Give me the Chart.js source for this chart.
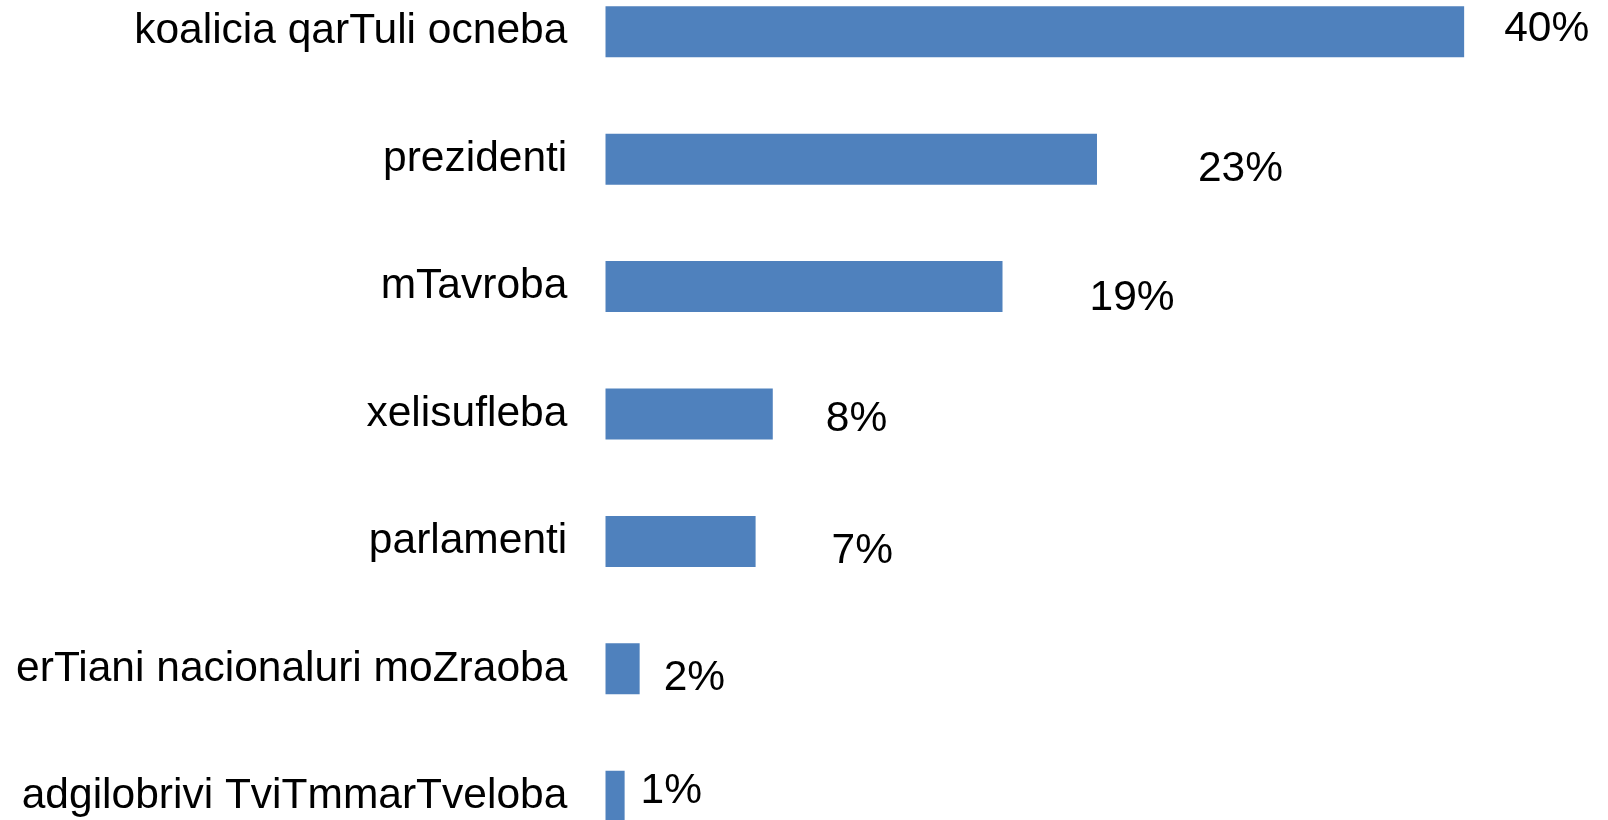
<!DOCTYPE html>
<html>
<head>
<meta charset="utf-8">
<script src="https://cdn.jsdelivr.net/npm/chart.js@4/dist/chart.umd.min.js"></script>
<style>
  html, body { margin: 0; padding: 0; background: #ffffff; overflow: hidden; width: 1608px; height: 820px; }
  #wrap { position: absolute; left: 0; top: -32px; width: 1608px; height: 892px; }
</style>
</head>
<body>
<div id="wrap"><canvas id="c" width="1608" height="892"></canvas></div>
<script>
const categories = [
  "koalicia qarTuli ocneba",
  "prezidenti",
  "mTavroba",
  "xelisufleba",
  "parlamenti",
  "erTiani nacionaluri moZraoba",
  "adgilobrivi TviTmmarTveloba"
];
const values = [40, 22.9, 18.5, 7.8, 7.0, 1.6, 0.9];
const valueLabels = ["40%", "23%", "19%", "8%", "7%", "2%", "1%"];

// label offsets relative to bar end / bar centre (Excel manual label placement)
const labelOffsets = [[40, 9], [101, 22], [87, 23.5], [53, 17], [76, 21.5], [24, 21.5], [16, 7]];

const valueLabelPlugin = {
  id: 'valueLabels',
  afterDatasetsDraw(chart) {
    const ctx = chart.ctx;
    const meta = chart.getDatasetMeta(0);
    ctx.save();
    ctx.font = '42.5px "Liberation Sans", Arial, sans-serif';
    ctx.fillStyle = '#000000';
    ctx.textAlign = 'left';
    ctx.textBaseline = 'alphabetic';
    meta.data.forEach((bar, i) => {
      const off = labelOffsets[i];
      ctx.fillText(valueLabels[i], bar.x + off[0], bar.y + off[1]);
    });
    ctx.restore();
  }
};

new Chart(document.getElementById('c'), {
  type: 'bar',
  data: {
    labels: categories,
    datasets: [{
      data: values,
      backgroundColor: '#4F81BD',
      borderWidth: 0,
      categoryPercentage: 0.8,
      barPercentage: 0.5
    }]
  },
  options: {
    indexAxis: 'y',
    responsive: false,
    animation: false,
    events: [],
    layout: { padding: { left: 0, right: 36.5, top: 0, bottom: 0 } },
    plugins: { legend: { display: false }, tooltip: { enabled: false } },
    scales: {
      x: { display: false, min: 0, max: 45 },
      y: {
        afterFit(scale) {
          scale.width = 605.3;
          scale.paddingTop = 0;
          scale.paddingBottom = 0;
        },
        grid: { display: false, drawTicks: false },
        border: { display: false },
        ticks: {
          autoSkip: false,
          padding: 38,
          color: '#000000',
          font: { family: '"Liberation Sans", Arial, sans-serif', size: 42.5 }
        }
      }
    }
  },
  plugins: [valueLabelPlugin]
});
</script>
</body>
</html>
